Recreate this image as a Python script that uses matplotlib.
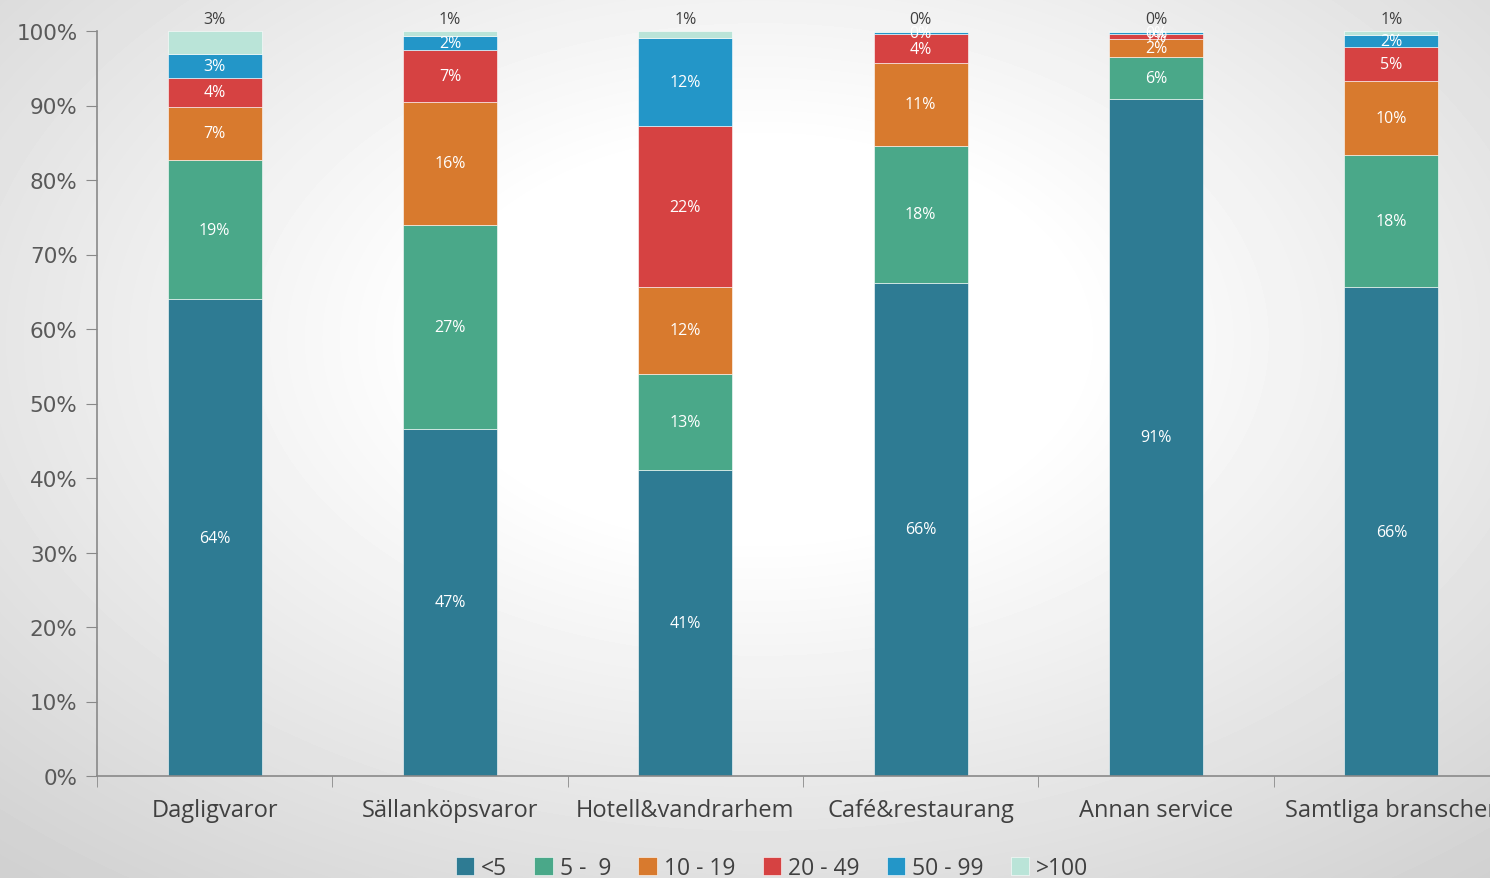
import numpy as np
import matplotlib.pyplot as plt

# data (percent of businesses per size class)
categories = ["Dagligvaror", "Sällanköpsvaror", "Hotell&vandrarhem",
              "Café&restaurang", "Annan service", "Samtliga branscher"]
series_names = ["<5", "5 -  9", "10 - 19", "20 - 49", "50 - 99", ">100"]
lt5 = [64.0, 46.6, 41.1, 66.2, 90.9, 65.6]
s5_9 = [18.7, 27.4, 12.9, 18.4, 5.6, 17.7]
s10_19 = [7.1, 16.5, 11.6, 11.1, 2.4, 10.0]
s20_49 = [3.9, 6.9, 21.6, 3.9, 0.7, 4.6]
s50_99 = [3.2, 1.9, 11.8, 0.3, 0.3, 1.5]
gt100 = [3.1, 0.7, 1.0, 0.1, 0.1, 0.6]
colors = ["#2E7B93", "#4AA889", "#D87A2E", "#D64242", "#2396C8", "#BAE4D8"]

values = [lt5, s5_9, s10_19, s20_49, s50_99, gt100]

fig = plt.figure(figsize=(14.9, 8.79), dpi=100)

# soft radial background like the slide
bg = fig.add_axes([0, 0, 1, 1], zorder=-10)
yy, xx = np.mgrid[0:879, 0:1490]
r = np.sqrt(((xx - 760) / 900.0) ** 2 + ((yy - 340) / 560.0) ** 2)
shade = np.clip(1.0 - 0.16 * np.clip(r - 0.35, 0, None) / 0.8, 0.82, 1.0)
bg.imshow(shade, cmap="gray", vmin=0, vmax=1, aspect="auto",
          extent=[0, 1, 0, 1], interpolation="bilinear")
bg.axis("off")

ax = fig.add_axes([97 / 1490, 1 - 777 / 879, (1509 - 97) / 1490, (777 - 32) / 879])
ax.patch.set_alpha(0)

x = np.arange(len(categories))
bottom = np.zeros(len(categories))
for i, (name, vals, c) in enumerate(zip(series_names, values, colors)):
    vals = np.array(vals)
    ax.bar(x, vals, 0.4, bottom=bottom, color=c, label=name,
           edgecolor="white", linewidth=0.4)
    for xi, b, v in zip(x, bottom, vals):
        txt = f"{v:.0f}%"
        if i == len(series_names) - 1:
            ax.text(xi, 100.6, txt, ha="center", va="bottom", fontsize=11.5,
                    color="#404040", family="Open Sans")
        else:
            ax.text(xi, b + v / 2, txt, ha="center", va="center", fontsize=11.5,
                    color="white", family="Open Sans")
    bottom += vals

ax.set_xlim(-0.5, len(categories) - 0.5)
ax.set_ylim(0, 100)
ax.set_yticks(np.arange(0, 101, 10))
ax.set_yticklabels([f"{t}%" for t in range(0, 101, 10)], fontsize=15.5,
                   color="#595959", family="DejaVu Sans")
ax.set_xticks(x)
ax.set_xticklabels(categories, fontsize=17, color="#404040", family="Open Sans")
ax.set_xticks(np.arange(-0.5, len(categories), 1), minor=True)
ax.tick_params(axis="x", which="major", length=0, pad=16)
ax.tick_params(axis="x", which="minor", length=8, color="#898989", direction="out")
ax.tick_params(axis="y", length=8, color="#898989", direction="out", pad=6)

for s in ["top", "right"]:
    ax.spines[s].set_visible(False)
for s in ["left", "bottom"]:
    ax.spines[s].set_color("#898989")
    ax.spines[s].set_linewidth(1.2)

leg = fig.legend(loc="center", bbox_to_anchor=(772 / 1490, 1 - 869 / 879), ncol=6,
                 frameon=False, handlelength=0.8, handleheight=0.8,
                 columnspacing=1.2, handletextpad=0.3,
                 prop={"family": "Open Sans", "size": 16.5})
for t in leg.get_texts():
    t.set_color("#404040")

fig.savefig("out.png", dpi=100)
